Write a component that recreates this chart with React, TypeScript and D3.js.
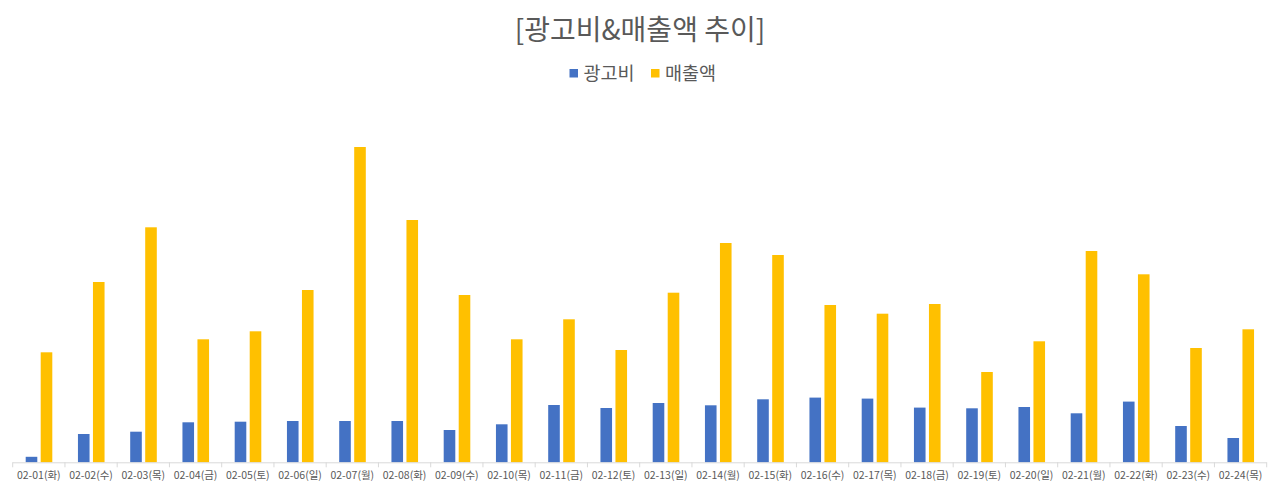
import React from "react";
import * as d3 from "d3";

const categories = [
  "02-01(화)", "02-02(수)", "02-03(목)", "02-04(금)", "02-05(토)", "02-06(일)",
  "02-07(월)", "02-08(화)", "02-09(수)", "02-10(목)", "02-11(금)", "02-12(토)",
  "02-13(일)", "02-14(월)", "02-15(화)", "02-16(수)", "02-17(목)", "02-18(금)",
  "02-19(토)", "02-20(일)", "02-21(월)", "02-22(화)", "02-23(수)", "02-24(목)",
];

const adCost = [
  5.5, 28.3, 30.6, 40, 40.6, 41.3, 41.3, 41.3, 32.3, 38, 57.3, 54.3,
  59.3, 57, 63, 64.7, 63.7, 54.7, 54, 55.3, 49, 60.7, 36.3, 24.3,
];

const sales = [
  110, 180.3, 235, 123, 131, 172.3, 315.3, 242.3, 167.3, 123, 143, 112.3,
  169.6, 219.3, 207.3, 157.3, 148.6, 158.3, 90.3, 121, 211.3, 188, 114.3, 133,
];

const seriesNames = ["광고비", "매출액"];
const seriesColors = ["#4472C4", "#FFC000"];

const W = 1280;
const H = 490;
const FONT = "'Malgun Gothic', 'Noto Sans CJK KR', sans-serif";

export default function App() {
  const baseY = 462.3;
  const x0 = d3.scaleBand<string>().domain(categories).range([12.7, 1266.7]).padding(0);
  const step = x0.bandwidth();
  const x1 = d3
    .scaleBand<string>()
    .domain(seriesNames)
    .range([13, 39.6])
    .paddingInner(0.227);
  const y = d3.scaleLinear().domain([0, 330]).range([baseY, baseY - 330]);
  const data = [adCost, sales];

  const legendItems = [
    { name: seriesNames[0], color: seriesColors[0], x: 569.5 },
    { name: seriesNames[1], color: seriesColors[1], x: 651 },
  ];

  return (
    <div style={{ position: "absolute", left: 0, top: 0 }}>
      <svg width={W} height={H} style={{ display: "block", background: "#fff" }}>
        <text
          x={640}
          y={40}
          textAnchor="middle"
          fontFamily={FONT}
          fontSize={28}
          fill="#595959"
        >
          [광고비&amp;매출액 추이]
        </text>
        {legendItems.map((d) => (
          <g key={d.name}>
            <rect x={d.x} y={69} width={8.5} height={8.5} fill={d.color} />
            <text
              x={d.x + 14}
              y={80}
              fontFamily={FONT}
              fontSize={18.5}
              fill="#595959"
            >
              {d.name}
            </text>
          </g>
        ))}
        {data.map((vals, si) =>
          vals.map((v, i) => (
            <rect
              key={`${si}-${i}`}
              x={(x0(categories[i]) as number) + (x1(seriesNames[si]) as number)}
              y={y(v)}
              width={x1.bandwidth()}
              height={baseY - y(v)}
              fill={seriesColors[si]}
            />
          ))
        )}
        <line x1={12.7} x2={1266.7} y1={baseY + 0.5} y2={baseY + 0.5} stroke="#d9d9d9" strokeWidth={1} />
        {d3.range(categories.length + 1).map((i) => {
          const xx = 12.7 + i * step;
          return (
            <line key={`t${i}`} x1={xx} x2={xx} y1={baseY} y2={baseY + 5} stroke="#d9d9d9" strokeWidth={1} />
          );
        })}
        {categories.map((c) => (
          <text
            key={c}
            x={(x0(c) as number) + step / 2}
            y={479}
            textAnchor="middle"
            fontFamily={FONT}
            fontSize={10.5}
            fill="#595959"
          >
            {c}
          </text>
        ))}
      </svg>
    </div>
  );
}
